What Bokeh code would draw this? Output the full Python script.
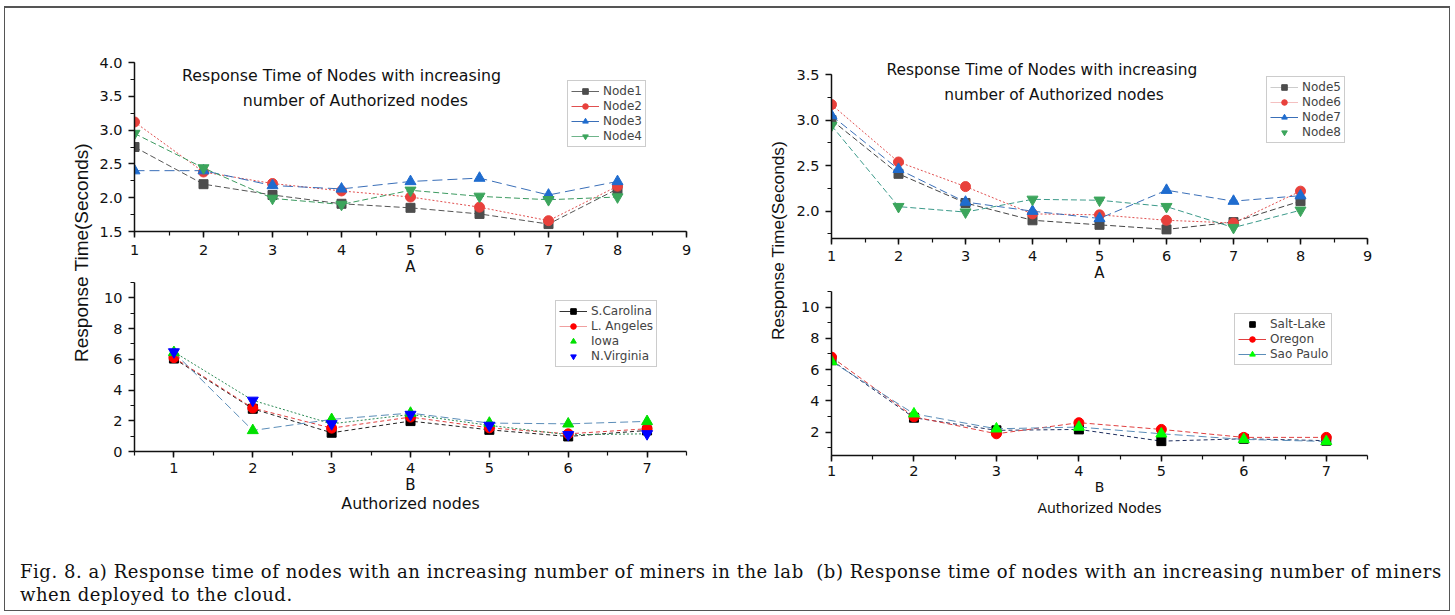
import math
from bokeh.plotting import figure
from bokeh.models import (Legend, LegendItem, Label, SingleIntervalTicker, FixedTicker,
                          PrintfTickFormatter, Range1d, Div, Spacer, LinearAxis,
                          ColumnDataSource, CDSView, IndexFilter)
from bokeh.layouts import row, column
from bokeh.embed import file_html
from bokeh.resources import INLINE

# ---------------- data ----------------
# (A) lab, top-left
lab_x = [1, 2, 3, 4, 5, 6, 7, 8]
node1 = [2.75, 2.20, 2.04, 1.91, 1.85, 1.76, 1.61, 2.13]
node2 = [3.12, 2.38, 2.21, 2.10, 2.01, 1.86, 1.66, 2.17]
node3 = [2.40, 2.40, 2.18, 2.13, 2.24, 2.29, 2.04, 2.24]
node4 = [2.95, 2.44, 1.99, 1.90, 2.11, 2.02, 1.97, 2.01]

# (B) cloud, bottom-left
cloud_x = [1, 2, 3, 4, 5, 6, 7]
s_carolina = [6.05, 2.78, 1.22, 1.98, 1.41, 0.98, 1.37]
l_angeles = [6.11, 2.83, 1.52, 2.24, 1.54, 1.15, 1.48]
iowa = [6.45, 1.37, 2.09, 2.50, 1.85, 1.80, 1.96]
n_virginia = [6.48, 3.33, 1.80, 2.41, 1.70, 1.09, 1.15]

# (A) lab, top-right
node5 = [3.00, 2.41, 2.09, 1.90, 1.85, 1.80, 1.88, 2.11]
node6 = [3.17, 2.54, 2.27, 1.97, 1.96, 1.90, 1.87, 2.22]
node7 = [3.05, 2.46, 2.10, 2.00, 1.92, 2.23, 2.11, 2.17]
node8 = [2.94, 2.05, 1.99, 2.13, 2.12, 2.05, 1.82, 2.01]

# (B) cloud, bottom-right
salt_lake = [6.60, 2.92, 2.11, 2.17, 1.42, 1.57, 1.45]
oregon = [6.80, 2.98, 1.89, 2.60, 2.17, 1.66, 1.66]
sao_paulo = [6.52, 3.17, 2.21, 2.32, 1.89, 1.53, 1.40]

TITLE_1 = "Response Time of Nodes with increasing"
TITLE_2 = "number of Authorized nodes"
YLABEL = "Response Time(Seconds)"
CAPTION_1 = ("Fig. 8. a) Response time of nodes with an increasing number of miners "
             "in the lab &nbsp;(b) Response time of nodes with an increasing number of miners")
CAPTION_2 = "when deployed to the cloud."

FONT = "DejaVu Sans"
GRAY, RED, BLUE, GREEN = "#4d4d4d", "#e8413c", "#1f6ccf", "#3ca55c"


def panel(xr, yr, fw, fh, mbl, mbr, mbt, mbb, yint, yfmt=None, xstand=6, ybounds=None):
    p = figure(frame_width=fw, frame_height=fh,
               x_range=Range1d(*xr), y_range=Range1d(*yr),
               output_backend="svg", toolbar_location=None,
               min_border_left=mbl, min_border_right=mbr,
               min_border_top=mbt, min_border_bottom=mbb)
    p.outline_line_color = None
    p.grid.visible = False
    p.background_fill_color = None
    p.border_fill_color = None
    p.xaxis.ticker = SingleIntervalTicker(interval=1, num_minor_ticks=2)
    p.yaxis.ticker = SingleIntervalTicker(interval=yint, num_minor_ticks=2)
    if ybounds:
        p.yaxis.bounds = ybounds
    if yfmt:
        p.yaxis.formatter = PrintfTickFormatter(format=yfmt)
    for ax in (p.xaxis[0], p.yaxis[0]):
        ax.axis_line_width = 1.5
        ax.axis_line_color = "#111111"
        ax.major_tick_line_width = 1.5
        ax.major_tick_line_color = "#111111"
        ax.major_tick_out = 6
        ax.major_tick_in = 0
        ax.minor_tick_line_width = 1.2
        ax.minor_tick_line_color = "#111111"
        ax.minor_tick_out = 4
        ax.minor_tick_in = 0
        ax.major_label_text_font = FONT
        ax.major_label_text_font_size = "14.5px"
        ax.major_label_text_color = "#111111"
        ax.axis_label_text_font = FONT
        ax.axis_label_text_font_style = "normal"
        ax.axis_label_text_color = "#111111"
    p.xaxis.major_label_standoff = xstand
    p.yaxis.major_label_standoff = 6
    return p


def second_label(p, text, size, standoff):
    ax = LinearAxis(axis_label=text, ticker=FixedTicker(ticks=[]),
                    axis_line_color=None, major_tick_line_color=None,
                    minor_tick_line_color=None, major_tick_out=0, minor_tick_out=0,
                    major_label_standoff=0, major_label_text_font_size="0px",
                    axis_label_standoff=standoff, axis_label_text_font=FONT,
                    axis_label_text_font_size=size, axis_label_text_font_style="normal",
                    axis_label_text_color="#111111")
    p.add_layout(ax, "below")


def series(p, xs, ys, mcolor, marker, size, lcolor, dash, leg_line):
    """Draws the dashed line and markers; the legend gets a solid line sample
    (a one-vertex view of the same data, which draws nothing in the plot)."""
    src = ColumnDataSource(dict(x=xs, y=ys))
    p.line("x", "y", source=src, line_color=lcolor, line_width=1, line_dash=dash)
    sc = p.scatter("x", "y", source=src, marker=marker, size=size,
                   fill_color=mcolor, line_color=mcolor)
    rs = []
    if leg_line:
        rs.append(p.line("x", "y", source=src, line_color=leg_line, line_width=1,
                         view=CDSView(filter=IndexFilter(indices=[0]))))
    rs.append(sc)
    return rs


def legend(p, items, loc):
    lg = Legend(items=[LegendItem(label=l, renderers=r) for l, r in items],
                location=loc, label_text_font=FONT, label_text_font_size="12px",
                glyph_width=28, glyph_height=14, label_height=14, spacing=1,
                padding=3, margin=0, label_standoff=4,
                border_line_color="#9a9a9a", border_line_width=1,
                background_fill_color="white", background_fill_alpha=1)
    p.add_layout(lg)


def title(p, x1, y1, x2, y2, size):
    for x, y, t in ((x1, y1, TITLE_1), (x2, y2, TITLE_2)):
        p.add_layout(Label(x=x, y=y, text=t, text_align="center", text_baseline="middle",
                           text_font=FONT, text_font_size=size, text_color="#111111"))


# ---------------- top-left ----------------
tl = panel((1, 9), (1.5, 4.0), 552, 169, 40, 59, 54, 50, 0.5, "%.1f", xstand=7)
tl.xaxis.axis_label = "A"
tl.xaxis.axis_label_text_font_size = "15px"
tl.xaxis.axis_label_standoff = 0
a1 = series(tl, lab_x, node1, GRAY, "square", 9, "#555555", "6 3", "#666666")
a2 = series(tl, lab_x, node2, RED, "circle", 10, "#e05050", "2 2", "#e05050")
a3 = series(tl, lab_x, node3, BLUE, "triangle", 11, "#3a6fb8", "10 5", "#3a6fb8")
a4 = series(tl, lab_x, node4, GREEN, "inverted_triangle", 11, "#3c9a60", "6 3", "#6fb48a")
title(tl, 4.0, 3.81, 4.2, 3.44, "15.8px")
legend(tl, [("Node1", a1), ("Node2", a2), ("Node3", a3), ("Node4", a4)], (433, 84))

# ---------------- bottom-left ----------------
bl = panel((0.5, 7.5), (0, 11), 552, 169, 40, 59, 1, 30, 2, None, xstand=5)
bl.xaxis.axis_label = "B"
bl.xaxis.axis_label_text_font_size = "15px"
bl.xaxis.axis_label_standoff = 0
second_label(bl, "Authorized nodes", "15.8px", -3)
b1 = series(bl, cloud_x, s_carolina, "#000000", "square", 9, "#222222", "4 3", "#333333")
b2 = series(bl, cloud_x, l_angeles, "#ff0000", "circle", 10, "#e04040", "4 3", "#f0a0a0")
b3 = series(bl, cloud_x, iowa, "#00e000", "triangle", 11, "#5b8db8", "8 4", None)
b4 = series(bl, cloud_x, n_virginia, "#0000ff", "inverted_triangle", 11, "#2e8b57", "2 2", None)
legend(bl, [("S.Carolina", b1), ("L. Angeles", b2), ("Iowa", b3), ("N.Virginia", b4)], (421, 84))

# ---------------- top-right ----------------
# frame extends a little above 3.5 so the title fits; the axis stops at 3.5
tr = panel((1, 9), (1.7, 3.654), 536, 178, 40, 82, 52, 44, 0.5, "%.1f", xstand=6,
           ybounds=(1.7, 3.5))
tr.xaxis.axis_label = "A"
tr.xaxis.axis_label_text_font_size = "15px"
tr.xaxis.axis_label_standoff = 0
c1 = series(tr, lab_x, node5, GRAY, "square", 9, "#444444", "6 3", "#cccccc")
c2 = series(tr, lab_x, node6, RED, "circle", 10, "#e05050", "2 2", "#f4c0c0")
c3 = series(tr, lab_x, node7, BLUE, "triangle", 11, "#3a6fb8", "8 4", "#3a6fb8")
c4 = series(tr, lab_x, node8, GREEN, "inverted_triangle", 11, "#3c9a8a", "6 3", None)
title(tr, 4.14, 3.55, 4.32, 3.27, "15.4px")
legend(tr, [("Node5", c1), ("Node6", c2), ("Node7", c3), ("Node8", c4)], (435, 95))

# ---------------- bottom-right ----------------
br = panel((1, 7.5), (0.5, 11), 536, 164, 40, 82, 7, 30, 2, None, xstand=4)
br.xaxis.axis_label = "B"
br.xaxis.axis_label_text_font_size = "14px"
br.xaxis.axis_label_standoff = 0
second_label(br, "Authorized Nodes", "14px", 2)
d1 = series(br, cloud_x, salt_lake, "#000000", "square", 9, "#1f2f5f", "4 3", None)
d2 = series(br, cloud_x, oregon, "#ff0000", "circle", 10, "#e04040", "5 3", "#e04040")
d3 = series(br, cloud_x, sao_paulo, "#00ff00", "triangle", 11, "#5b8db8", "8 4", "#5b8db8")
legend(br, [("Salt-Lake", d1), ("Oregon", d2), ("Sao Paulo", d3)], (403, 90))


def ylab(w, h, cx, cy, size):
    p = figure(width=w, height=h, x_range=Range1d(0, w), y_range=Range1d(0, h),
               output_backend="svg", toolbar_location=None,
               x_axis_location=None, y_axis_location=None, min_border=0)
    p.outline_line_color = None
    p.grid.visible = False
    p.background_fill_color = None
    p.border_fill_color = None
    p.add_layout(Label(x=cx, y=h - cy, text=YLABEL, angle=math.pi / 2,
                       text_align="center", text_baseline="middle",
                       text_font="Liberation Sans", text_font_size=size, text_color="#111111"))
    return p


yl_left = ylab(30, 507, 17, 244, "19px")
yl_right = ylab(46, 507, 32, 232, "17.3px")

caption = Div(width=1429, height=92, margin=0,
              text=('<div style="font-family:\'DejaVu Serif\';font-size:18px;line-height:23px;'
                    'letter-spacing:0.55px;padding-top:42px;white-space:nowrap;color:#111">'
                    + CAPTION_1 + '<br>' + CAPTION_2 + '</div>'))

plots = row(Spacer(width=59, height=507), yl_left, column(tl, bl), yl_right, column(tr, br))
root = column(plots, row(Spacer(width=15, height=92), caption),
              margin=(6, 0, 0, 4),
              styles={"border": "1px solid #555555", "border-top": "2px solid #555555"})

open("out.html", "w").write(file_html(root, INLINE))
